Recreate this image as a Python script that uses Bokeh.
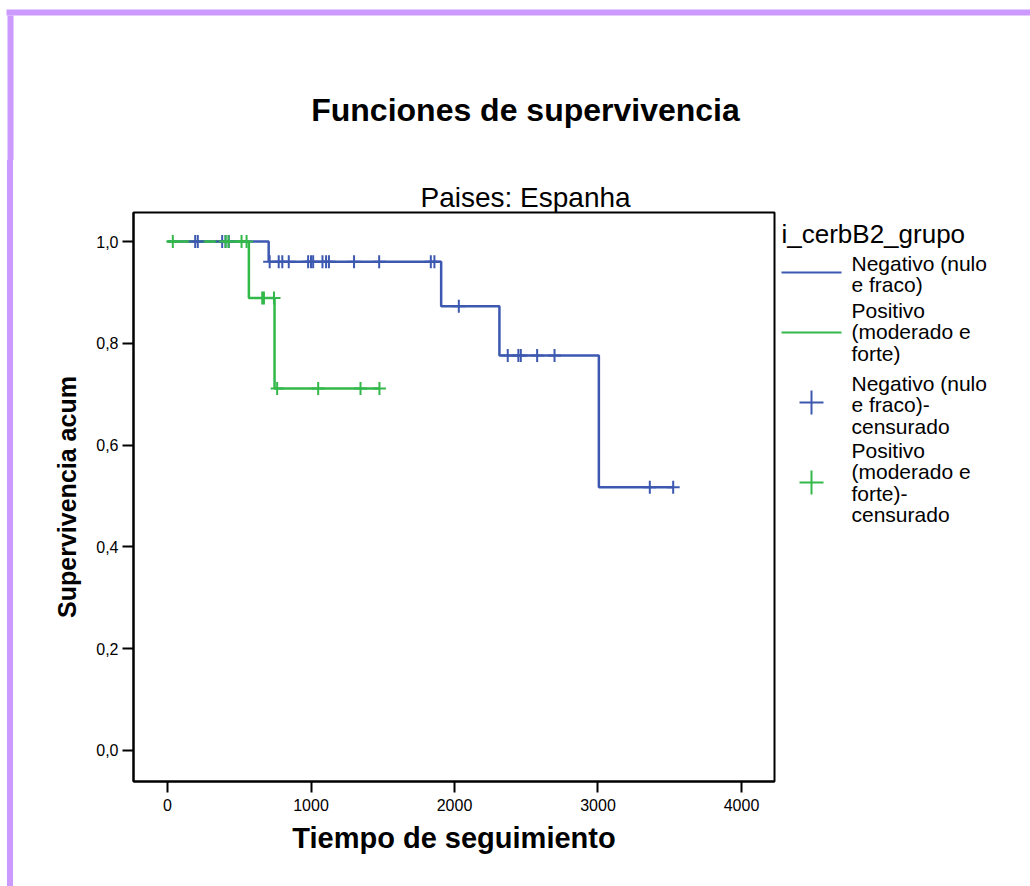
from bokeh.plotting import figure
from bokeh.layouts import column, row
from bokeh.models import Range1d, FixedTicker, CustomJSTickFormatter, Title, Div
from bokeh.core.properties import value
from bokeh.embed import file_html
from bokeh.resources import INLINE

# ---------------- data ----------------
neg_times = [0, 705, 1907, 2313, 3006, 3524]
neg_surv = [1.0, 0.960, 0.873, 0.776, 0.517, 0.517]
pos_times = [0, 567, 746, 1477]
pos_surv = [1.0, 0.889, 0.711, 0.711]

neg_censored = [193, 211, 381, 404, 427,
                712, 775, 800, 845, 980, 1000, 1015, 1080, 1105, 1125, 1300, 1475, 1835, 1860,
                2030,
                2371, 2445, 2462, 2576, 2697,
                3361, 3524]
pos_censored = [37, 405, 425, 516, 551,
                660, 672, 742,
                764, 1050, 1345, 1477]

x_ticks = [0, 1000, 2000, 3000, 4000]
y_ticks = [0.0, 0.2, 0.4, 0.6, 0.8, 1.0]

title_text = "Funciones de supervivencia"
subtitle_text = "Paises: Espanha"
x_label = "Tiempo de seguimiento"
y_label = "Supervivencia acum"
legend_title = "i_cerbB2_grupo"
legend_entries = [
    ["Negativo (nulo", "e fraco)"],
    ["Positivo", "(moderado e", "forte)"],
    ["Negativo (nulo", "e fraco)-", "censurado"],
    ["Positivo", "(moderado e", "forte)-", "censurado"],
]


def step_value(times, surv, t):
    val = surv[0]
    for ti, si in zip(times, surv):
        if ti <= t:
            val = si
    return val


neg_cens_y = [step_value(neg_times, neg_surv, t) for t in neg_censored]
pos_cens_y = [step_value(pos_times, pos_surv, t) for t in pos_censored]

# ---------------- style ----------------
BLUE = "#3d58b0"
GREEN = "#33b84a"
PURPLE = "#cc99ff"
FONT = "Liberation Sans"

W, H = 1030, 886
TOP_H = 160          # height of the title strip
LEFT_W = 20          # width of the left strip (purple bar)
MAIN_W = 758
LEG_W = W - LEFT_W - MAIN_W
ROW_H = H - TOP_H
FL, FR, FT, FB = 133, 774, 212, 781  # frame edges in page px


def blank(width, height, x0, x1, y0, y1, btop=0, bbottom=0):
    f = figure(width=width, height=height, x_range=Range1d(x0, x1), y_range=Range1d(y1, y0),
               output_backend="svg", toolbar_location=None, title=None,
               x_axis_location=None, y_axis_location=None,
               min_border_left=0, min_border_right=0,
               min_border_top=btop, min_border_bottom=bbottom)
    f.xgrid.visible = False
    f.ygrid.visible = False
    f.outline_line_color = None
    f.background_fill_color = "white"
    f.border_fill_color = "white"
    return f


# ---- top strip: purple bars + main title (page px coordinates) ----
top = blank(W, TOP_H, 0, W, 0, TOP_H)
top.quad(left=[6, 7], right=[W, 13], top=[9, 15], bottom=[15, TOP_H],
         fill_color=PURPLE, line_color=None)
top.text(x=[525], y=[109], text=[title_text], text_font=value(FONT), text_font_size="32px",
         text_font_style="bold", text_align="center", text_baseline="middle", text_color="black")

# ---- left strip: purple bar ----
left = Div(text="", width=6, height=ROW_H, margin=(0, LEFT_W - 13, 0, 7),
           styles={"background-color": PURPLE})

# ---- main plot ----
p = figure(width=MAIN_W, height=ROW_H,
           x_range=Range1d(-237, 4230), y_range=Range1d(-0.061, 1.057),
           output_backend="svg", toolbar_location=None,
           min_border_left=FL - LEFT_W, min_border_right=LEFT_W + MAIN_W - FR,
           min_border_top=FT - TOP_H, min_border_bottom=H - FB)
p.title = Title(text=subtitle_text, align="left", offset=287, standoff=0,
                text_font=FONT, text_font_size="28px", text_font_style="normal",
                text_color="black")
p.background_fill_color = "white"
p.border_fill_color = "white"
p.outline_line_color = "black"
p.outline_line_width = 2
p.outline_line_alpha = 1.0
p.xgrid.visible = False
p.ygrid.visible = False

p.step(neg_times, neg_surv, mode="after", line_color=BLUE, line_width=2.5)
p.step(pos_times, pos_surv, mode="after", line_color=GREEN, line_width=2.5)
p.scatter(neg_censored, neg_cens_y, marker="cross", size=13, line_color=BLUE, line_width=2)
p.scatter(pos_censored, pos_cens_y, marker="cross", size=13, line_color=GREEN, line_width=2)

p.xaxis.ticker = FixedTicker(ticks=x_ticks)
p.yaxis.ticker = FixedTicker(ticks=y_ticks)
p.yaxis.formatter = CustomJSTickFormatter(code="return tick.toFixed(1).replace('.', ',');")
for ax in (p.xaxis[0], p.yaxis[0]):
    ax.axis_line_width = 2
    ax.axis_line_color = "black"
    ax.major_tick_line_width = 2
    ax.major_tick_line_color = "black"
    ax.major_tick_out = 11
    ax.major_tick_in = 0
    ax.minor_tick_out = 0
    ax.minor_tick_in = 0
    ax.major_label_text_font = FONT
    ax.major_label_text_font_size = "16px"
    ax.major_label_text_color = "black"
    ax.axis_label_text_font = FONT
    ax.axis_label_text_font_style = "bold"
    ax.axis_label_text_color = "black"
p.xaxis.axis_label = x_label
p.yaxis.axis_label = y_label
p.xaxis.axis_label_text_font_size = "29px"
p.yaxis.axis_label_text_font_size = "25px"
p.xaxis.major_label_standoff = 6
p.yaxis.major_label_standoff = 4
p.xaxis.axis_label_standoff = 8
p.yaxis.axis_label_standoff = 12

# ---- legend strip (page px coordinates, frame aligned with main frame) ----
leg_x0 = LEFT_W + MAIN_W
leg = blank(LEG_W, ROW_H, leg_x0, W, FT, FB, btop=FT - TOP_H, bbottom=H - FB)
leg.text(x=[781], y=[233], text=[legend_title], text_font=value(FONT), text_font_size="26px",
         text_align="left", text_baseline="middle", text_color="black")
line_y = [263, 310, 383, 450]
xs, ys, ts = [], [], []
for entry, y0 in zip(legend_entries, line_y):
    for i, line in enumerate(entry):
        xs.append(851)
        ys.append(y0 + 21.3 * i)
        ts.append(line)
leg.text(x=xs, y=ys, text=ts, text_font=value(FONT), text_font_size="21px",
         text_align="left", text_baseline="middle", text_color="black")
leg.segment(x0=[781, 781], y0=[272, 332], x1=[841, 841], y1=[272, 332],
            line_color=[BLUE, GREEN], line_width=2)
leg.scatter(x=[811, 811], y=[402, 482], marker="cross", size=24,
            line_color=[BLUE, GREEN], line_width=2)

layout = column(top, row(left, p, leg, spacing=0), spacing=0)
open("out.html", "w").write(file_html(layout, INLINE))
